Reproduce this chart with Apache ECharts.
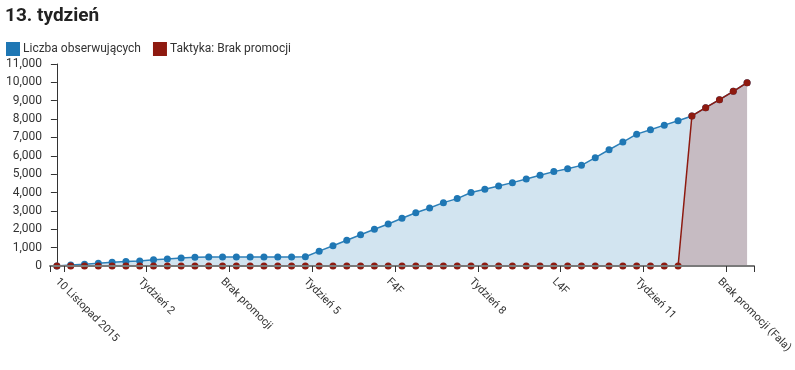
<!DOCTYPE html>
<html>
<head>
<meta charset="utf-8">
<script src="https://cdn.jsdelivr.net/npm/echarts@6/dist/echarts.min.js"></script>
<style>
html,body{margin:0;padding:0;background:#fff;}
#chart{width:795px;height:370px;}
</style>
</head>
<body>
<div id="chart"></div>
<script>
const titleText = '13. tydzień';
const seriesNames = ['Liczba obserwujących', 'Taktyka: Brak promocji'];
const tickLabels = ['10 Listopad 2015', 'Tydzień 2', 'Brak promocji', 'Tydzień 5', 'F4F', 'Tydzień 8', 'L4F', 'Tydzień 11', 'Brak promocji (Fala)'];
const pointsPerTick = 6;
const followers = [0, 50, 100, 150, 200, 240, 270, 340, 380, 430, 480, 490, 490, 490, 490, 490, 490, 490, 500, 810,
  1100, 1400, 1700, 2000, 2290, 2600, 2900, 3160, 3450, 3670, 4000, 4180, 4360, 4540, 4740, 4940, 5140, 5300, 5480,
  5900, 6330, 6750, 7180, 7420, 7670, 7910, 8170, 8620, 9060, 9510, 9980];
const noPromo = [0, 0, 0, 0, 0, 0, 0, 0, 0, 0, 0, 0, 0, 0, 0, 0, 0, 0, 0, 0, 0, 0, 0, 0, 0, 0, 0, 0, 0, 0, 0, 0, 0,
  0, 0, 0, 0, 0, 0, 0, 0, 0, 0, 0, 0, 0, 8170, 8620, 9060, 9510, 9980];

const n = followers.length;
const labelPos = tickLabels.map((_, i) => i * pointsPerTick);
const tickPos = [-0.5].concat(labelPos.map(v => v + 0.5)).concat([n - 0.5]);

const chart = echarts.init(document.getElementById('chart'), null, {renderer: 'canvas'});
const font = 'Roboto, "DejaVu Sans", sans-serif';
chart.setOption({
  animation: false,
  textStyle: {fontFamily: font},
  title: {
    text: titleText, left: 0, top: 2,
    textStyle: {fontFamily: font, fontSize: 19, fontWeight: 'bold', color: '#222'}
  },
  legend: {
    left: 1, top: 37, icon: 'rect', itemWidth: 14, itemHeight: 14, itemGap: 12,
    textStyle: {fontFamily: font, fontSize: 12, color: '#333', padding: [0, 0, 0, -2]},
    data: seriesNames
  },
  grid: {left: 50, right: 41, top: 64, bottom: 104, containLabel: false, outerBoundsMode: 'none'},
  xAxis: {
    type: 'value', min: -0.5, max: n - 0.5, z: 5,
    splitLine: {show: false},
    axisLine: {show: true, lineStyle: {color: '#7a7a7a', width: 2}},
    axisTick: {show: true, length: 6, customValues: tickPos, lineStyle: {color: '#333'}},
    axisLabel: {
      customValues: labelPos, rotate: -45, margin: 14,
      fontSize: 11, color: '#333', fontFamily: font,
      formatter: v => tickLabels[Math.round(v / pointsPerTick)]
    }
  },
  yAxis: {
    type: 'value', min: 0, max: 11000, interval: 1000,
    splitLine: {show: false},
    axisLine: {show: true, lineStyle: {color: '#333'}},
    axisTick: {show: true, length: 6, lineStyle: {color: '#333'}},
    axisLabel: {fontSize: 12, color: '#333', margin: 8, fontFamily: font}
  },
  series: [
    {
      name: seriesNames[0], type: 'line', color: '#1f77b4',
      data: followers.map((v, i) => [i, v]),
      symbol: 'circle', symbolSize: 7, showSymbol: true,
      lineStyle: {width: 1.5, color: '#2c7fb8'},
      itemStyle: {color: '#1f77b4'},
      areaStyle: {color: '#1f77b4', opacity: 0.2},
      z: 2
    },
    {
      name: seriesNames[1], type: 'line', color: '#96140a',
      data: noPromo.map((v, i) => [i, v]),
      symbol: 'circle', symbolSize: 7, showSymbol: true,
      lineStyle: {width: 1.5, color: '#8e1a10'},
      itemStyle: {color: '#8e1a10'},
      areaStyle: {color: '#96140a', opacity: 0.2},
      z: 3
    }
  ]
});
</script>
</body>
</html>
